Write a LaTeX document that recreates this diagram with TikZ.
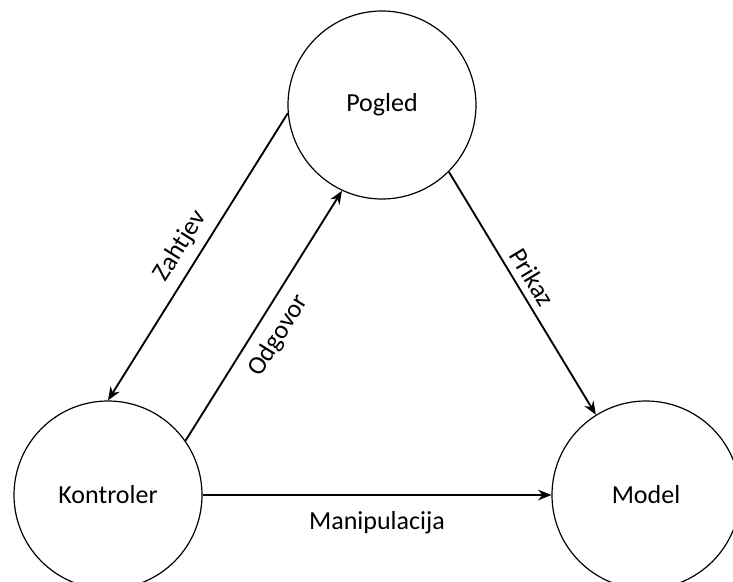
\documentclass[tikz,border=0pt]{standalone}
\usepackage{fontspec}
\setmainfont{Carlito}
\usetikzlibrary{arrows.meta}
\tikzset{
  circ/.style={draw, circle, line width=0.9pt, minimum size=141pt, inner sep=0pt, font=\fontsize{19.5}{23}\selectfont},
  conn/.style={line width=1.4pt, -{Stealth[length=10pt,width=8pt]}},
  lbl/.style={font=\fontsize{19.5}{23}\selectfont, sloped}
}
\begin{document}
\begin{tikzpicture}[x=0.75pt,y=-0.75pt]
\useasboundingbox (0,0) rectangle (733,582);

%Shape: Circle
\node [circ] (pogled) at (382,105) {Pogled};
%Shape: Circle
\node [circ] (kontroler) at (108,495) {Kontroler};
%Shape: Circle
\node [circ] (model) at (646,495) {Model};

%Straight Lines
\draw [conn] (pogled.185) -- node [lbl, above=3pt] {Zahtjev} (kontroler.90);
%Straight Lines
\draw [conn] (kontroler.35) -- node [lbl, below=5pt, pos=0.47] {Odgovor} (pogled.245);
%Straight Lines
\draw [conn] (pogled.315) -- node [lbl, above=2pt, pos=0.47] {Prikaz} (model.122);
%Straight Lines
\draw [conn] (kontroler.east) -- node [lbl, below=8.5pt] {Manipulacija} (model.west);

\end{tikzpicture}
\end{document}
